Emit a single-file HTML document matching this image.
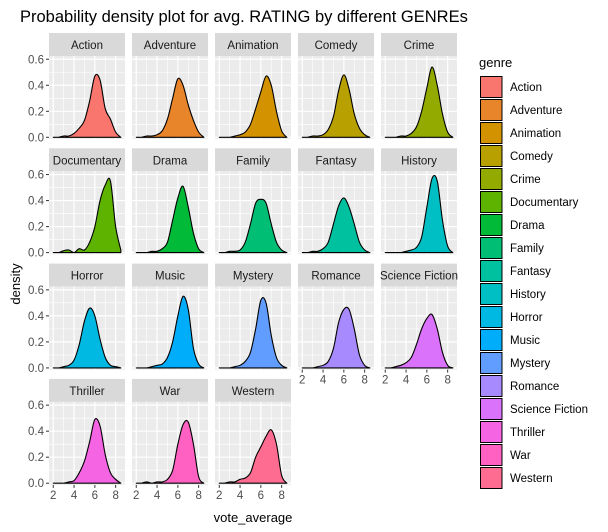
<!DOCTYPE html>
<html><head><meta charset="utf-8"><style>
body{margin:0;background:#fff;}
svg{display:block;font-family:"Liberation Sans",Arial,sans-serif;}
</style></head><body>
<svg id="chart" width="608" height="532" xmlns="http://www.w3.org/2000/svg">
<text x="20" y="22" font-size="16.5" fill="#000">Probability density plot for avg. RATING by different GENREs</text>
<text x="20" y="284" font-size="13" fill="#000" transform="rotate(-90 20 284)" text-anchor="middle">density</text>
<text x="253" y="522" font-size="13" fill="#000" text-anchor="middle">vote_average</text>
<g id="panels"></g>
<g id="legend">
<text x="479" y="67" font-size="13" fill="#000">genre</text>
</g>
</svg>
<script>
const genres = ["Action","Adventure","Animation","Comedy","Crime","Documentary","Drama","Family","Fantasy","History","Horror","Music","Mystery","Romance","Science Fiction","Thriller","War","Western"];
const colors = ["#F8766D","#E8852A","#D39200","#B8A000","#93AA00","#5EB300","#00BA38","#00BF74","#00C19F","#00BFC4","#00B9E3","#00ADFA","#619CFF","#A88AFF","#DB72FB","#F564E3","#FF61C3","#FF6C91"];
const xGrid = [2,2.5,3,3.5,4,4.5,5,5.5,6,6.5,7,7.5,8,8.5];
const dAction = [0,0,0.01,0.01,0.03,0.07,0.13,0.28,0.47,0.44,0.22,0.14,0.04,0];
const dAdventure = [0,0,0.01,0.01,0.02,0.05,0.14,0.30,0.45,0.40,0.25,0.13,0.04,0];
const dAnimation = [0,0,0,0.01,0.02,0.04,0.10,0.22,0.35,0.47,0.40,0.20,0.05,0];
const dComedy = [0,0,0.01,0.01,0.02,0.06,0.16,0.36,0.48,0.37,0.18,0.07,0.02,0];
const dCrime = [0,0,0,0.01,0.01,0.03,0.08,0.20,0.38,0.54,0.40,0.18,0.04,0];
const dDocumentary = [0,0,0.015,0.02,0,0.03,0.02,0.08,0.2,0.4,0.52,0.55,0.2,0.02];
const dDrama = [0,0,0,0.01,0.01,0.03,0.08,0.25,0.42,0.51,0.35,0.15,0.03,0];
const dFamily = [0,0,0.01,0.01,0.02,0.08,0.22,0.38,0.41,0.38,0.22,0.08,0.02,0];
const dFantasy = [0,0,0.01,0.01,0.03,0.08,0.22,0.36,0.42,0.35,0.22,0.08,0.02,0];
const dHistory = [0,0,0,0,0.01,0.02,0.04,0.12,0.35,0.57,0.55,0.25,0.05,0];
const dHorror = [0,0,0.01,0.02,0.06,0.18,0.36,0.46,0.40,0.22,0.08,0.02,0.01,0];
const dMusic = [0,0,0,0.01,0.02,0.03,0.08,0.20,0.40,0.55,0.45,0.15,0.03,0];
const dMystery = [0,0,0,0.01,0.02,0.05,0.12,0.30,0.52,0.50,0.25,0.08,0.02,0];
const dRomance = [0,0,0,0.01,0.02,0.05,0.15,0.35,0.45,0.45,0.30,0.10,0.02,0];
const dSciFi = [0,0,0.01,0.02,0.04,0.08,0.18,0.30,0.38,0.41,0.30,0.12,0.02,0];
const dThriller = [0,0,0,0.01,0.02,0.08,0.17,0.32,0.49,0.44,0.22,0.08,0.03,0];
const dWar = [0,0,0.01,0,0.01,0.01,0.03,0.10,0.30,0.45,0.47,0.30,0.05,0];
const dWestern = [0,0,0.01,0.01,0.03,0.04,0.08,0.20,0.28,0.36,0.41,0.30,0.06,0];
const densities = [dAction,dAdventure,dAnimation,dComedy,dCrime,dDocumentary,dDrama,dFamily,dFantasy,dHistory,dHorror,dMusic,dMystery,dRomance,dSciFi,dThriller,dWar,dWestern];
const xTicks = [2,4,6,8];
const yTicks = [0,0.2,0.4,0.6];
const yTickLabels = ["0.0","0.2","0.4","0.6"];

const NS="http://www.w3.org/2000/svg";
const svg=document.getElementById('chart');
const pg=document.getElementById('panels');
const PW=76, PH=83, X0=49, XS=83, Y0=56, YS=115.3, STRIP=23;
const XMIN=1.59, XMAX=8.9, YMIN=-0.013, YMAX=0.625;
function mk(tag,attrs,parent){const e=document.createElementNS(NS,tag);for(const k in attrs)e.setAttribute(k,attrs[k]);(parent||svg).appendChild(e);return e;}
function sx(px,v){return px+(v-XMIN)/(XMAX-XMIN)*PW;}
function sy(py,v){return py+PH-(v-YMIN)/(YMAX-YMIN)*PH;}
function slug(s){return s.toLowerCase().replace(/\s+/g,'-');}

genres.forEach((g,i)=>{
  const c=i%5, r=Math.floor(i/5);
  const px=X0+c*XS, py=Y0+r*YS;
  const grp=mk('g',{},pg);
  
  
  const strip=mk('rect',{x:px,y:py-STRIP,width:PW,height:STRIP,fill:'#D9D9D9'},grp);
  
  
  const st=mk('text',{x:px+PW/2,y:py-7,'font-size':'11.5','text-anchor':'middle',fill:'#1A1A1A'},grp);
  st.textContent=g;
  
  
  mk('rect',{x:px,y:py,width:PW,height:PH,fill:'#EBEBEB'},grp);
  [3,5,7].forEach(v=>mk('line',{x1:sx(px,v),x2:sx(px,v),y1:py,y2:py+PH,stroke:'#fff','stroke-width':0.6},grp));
  [0.1,0.3,0.5].forEach(v=>mk('line',{x1:px,x2:px+PW,y1:sy(py,v),y2:sy(py,v),stroke:'#fff','stroke-width':0.6},grp));
  xTicks.forEach(v=>mk('line',{x1:sx(px,v),x2:sx(px,v),y1:py,y2:py+PH,stroke:'#fff','stroke-width':1.2},grp));
  yTicks.forEach(v=>mk('line',{x1:px,x2:px+PW,y1:sy(py,v),y2:sy(py,v),stroke:'#fff','stroke-width':1.2},grp));
  const vals=densities[i];
  const pts=xGrid.map((x,k)=>[sx(px,x),sy(py,vals[k])]);
  const base=sy(py,0);
  let d='M'+sx(px,xGrid[0]).toFixed(2)+','+base.toFixed(2)+' L'+pts[0][0].toFixed(2)+','+pts[0][1].toFixed(2);
  for(let k=0;k<pts.length-1;k++){
    const p0=pts[Math.max(0,k-1)],p1=pts[k],p2=pts[k+1],p3=pts[Math.min(pts.length-1,k+2)];
    const c1=[p1[0]+(p2[0]-p0[0])/6,p1[1]+(p2[1]-p0[1])/6];
    const c2=[p2[0]-(p3[0]-p1[0])/6,p2[1]-(p3[1]-p1[1])/6];
    d+=' C'+c1[0].toFixed(2)+','+Math.min(c1[1],base).toFixed(2)+' '+c2[0].toFixed(2)+','+Math.min(c2[1],base).toFixed(2)+' '+p2[0].toFixed(2)+','+p2[1].toFixed(2);
  }
  d+=' L'+sx(px,xGrid[xGrid.length-1]).toFixed(2)+','+base.toFixed(2)+' Z';
  const area=mk('path',{d:d,fill:colors[i],stroke:'#000','stroke-width':1.1,'stroke-linejoin':'round'},grp);
  
  
  if(c===0){
    yTicks.forEach((v,k)=>{
      mk('line',{x1:px-3,x2:px,y1:sy(py,v),y2:sy(py,v),stroke:'#333','stroke-width':1},grp);
      const t=mk('text',{x:px-5,y:sy(py,v)+4,'font-size':'11.5','text-anchor':'end',fill:'#4D4D4D'},grp);
      t.textContent=yTickLabels[k];
      
      
    });
  }
  if(i+5>=genres.length){
    xTicks.forEach(v=>{
      mk('line',{x1:sx(px,v),x2:sx(px,v),y1:py+PH,y2:py+PH+3,stroke:'#333','stroke-width':1},grp);
      const t=mk('text',{x:sx(px,v),y:py+PH+14,'font-size':'11.5','text-anchor':'middle',fill:'#4D4D4D'},grp);
      t.textContent=v;
      
      
    });
  }
});

const lg=document.getElementById('legend');
genres.forEach((g,i)=>{
  const y=76+i*23;
  const k=mk('rect',{x:480.5,y:y+0.5,width:21.5,height:21,fill:colors[i],stroke:'#000','stroke-width':1},lg);
  
  
  const t=mk('text',{x:510,y:y+15,'font-size':'11.5',fill:'#000'},lg);
  t.textContent=g;
  
  
});
</script>
</body></html>
